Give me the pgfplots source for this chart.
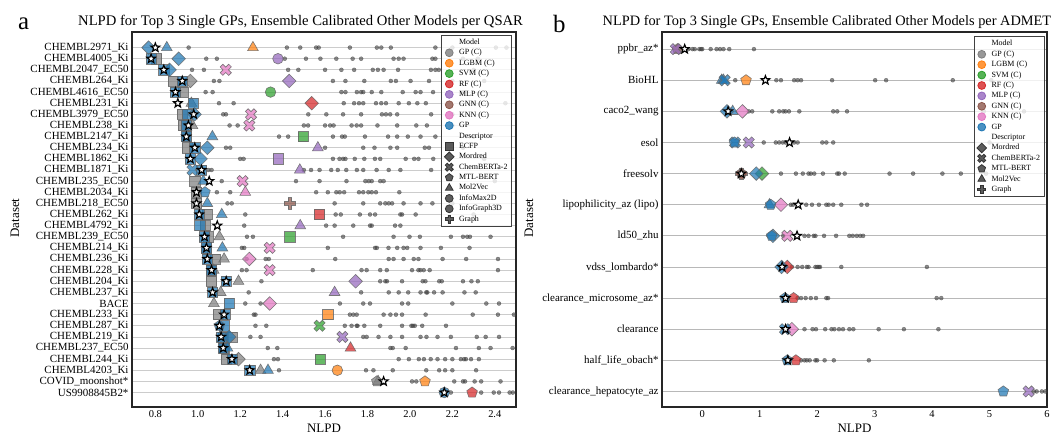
\documentclass[border=0pt]{standalone}
\usepackage{fontspec}
\setmainfont{Liberation Serif}
\usepackage{pgfplots}
\pgfplotsset{compat=1.18}
\usetikzlibrary{plotmarks}

\definecolor{cgray}{HTML}{7F7F7F}
\definecolor{corange}{HTML}{FF7F0E}
\definecolor{cgreen}{HTML}{2CA02C}
\definecolor{cred}{HTML}{D62728}
\definecolor{cpurple}{HTML}{9467BD}
\definecolor{cbrown}{HTML}{8C564B}
\definecolor{cpink}{HTML}{E377C2}
\definecolor{cblue}{HTML}{1F77B4}

\pgfdeclareplotmark{Df}{%
  \pgfpathmoveto{\pgfqpoint{0pt}{\pgfplotmarksize}}%
  \pgfpathlineto{\pgfqpoint{\pgfplotmarksize}{0pt}}%
  \pgfpathlineto{\pgfqpoint{0pt}{-\pgfplotmarksize}}%
  \pgfpathlineto{\pgfqpoint{-\pgfplotmarksize}{0pt}}%
  \pgfpathclose\pgfusepathqfillstroke}
\newcommand\crosspath{%
  \pgfpathmoveto{\pgfqpoint{0.32\pgfplotmarksize}{\pgfplotmarksize}}%
  \pgfpathlineto{\pgfqpoint{0.32\pgfplotmarksize}{0.32\pgfplotmarksize}}%
  \pgfpathlineto{\pgfqpoint{\pgfplotmarksize}{0.32\pgfplotmarksize}}%
  \pgfpathlineto{\pgfqpoint{\pgfplotmarksize}{-0.32\pgfplotmarksize}}%
  \pgfpathlineto{\pgfqpoint{0.32\pgfplotmarksize}{-0.32\pgfplotmarksize}}%
  \pgfpathlineto{\pgfqpoint{0.32\pgfplotmarksize}{-\pgfplotmarksize}}%
  \pgfpathlineto{\pgfqpoint{-0.32\pgfplotmarksize}{-\pgfplotmarksize}}%
  \pgfpathlineto{\pgfqpoint{-0.32\pgfplotmarksize}{-0.32\pgfplotmarksize}}%
  \pgfpathlineto{\pgfqpoint{-\pgfplotmarksize}{-0.32\pgfplotmarksize}}%
  \pgfpathlineto{\pgfqpoint{-\pgfplotmarksize}{0.32\pgfplotmarksize}}%
  \pgfpathlineto{\pgfqpoint{-0.32\pgfplotmarksize}{0.32\pgfplotmarksize}}%
  \pgfpathlineto{\pgfqpoint{-0.32\pgfplotmarksize}{\pgfplotmarksize}}%
  \pgfpathclose\pgfusepathqfillstroke}
\pgfdeclareplotmark{Pf}{\crosspath}
\pgfdeclareplotmark{Xf}{\pgftransformrotate{45}\crosspath}
\pgfdeclareplotmark{starf}{%
  \pgfpathmoveto{\pgfqpoint{0pt}{\pgfplotmarksize}}%
  \pgfpathlineto{\pgfqpoint{-0.247\pgfplotmarksize}{0.340\pgfplotmarksize}}%
  \pgfpathlineto{\pgfqpoint{-0.951\pgfplotmarksize}{0.309\pgfplotmarksize}}%
  \pgfpathlineto{\pgfqpoint{-0.399\pgfplotmarksize}{-0.130\pgfplotmarksize}}%
  \pgfpathlineto{\pgfqpoint{-0.588\pgfplotmarksize}{-0.809\pgfplotmarksize}}%
  \pgfpathlineto{\pgfqpoint{0pt}{-0.42\pgfplotmarksize}}%
  \pgfpathlineto{\pgfqpoint{0.588\pgfplotmarksize}{-0.809\pgfplotmarksize}}%
  \pgfpathlineto{\pgfqpoint{0.399\pgfplotmarksize}{-0.130\pgfplotmarksize}}%
  \pgfpathlineto{\pgfqpoint{0.951\pgfplotmarksize}{0.309\pgfplotmarksize}}%
  \pgfpathlineto{\pgfqpoint{0.247\pgfplotmarksize}{0.340\pgfplotmarksize}}%
  \pgfpathclose\pgfusepathqfillstroke}

\pgfplotsset{
  bm/.style={only marks, forget plot, color=#1, mark options={fill=#1, fill opacity=0.72, draw=black!60, draw opacity=0.85, line width=0.6pt}},
  sq/.style={mark=square*, mark size=5.1bp},
  di/.style={mark=Df, mark size=6.8bp},
  tr/.style={mark=triangle*, mark size=6.2bp},
  pe/.style={mark=pentagon*, mark size=5.6bp},
  ci/.style={mark=*, mark size=5.3bp},
  xx/.style={mark=Xf, mark size=6bp},
  pl/.style={mark=Pf, mark size=5.6bp},
  dots/.style={only marks, forget plot, mark=*, mark size=2bp, color=black!75, mark options={opacity=0.6, draw=none}},
  stars/.style={only marks, forget plot, mark=starf, mark size=4.6bp, mark options={fill=white, draw=black, line width=1.15pt}},
  lg/.style={only marks, color=#1, mark options={fill=#1, draw=#1}},
  myaxis/.style={
    scale only axis, y dir=reverse, height=375bp,
    ymajorgrids, grid style={draw=black!20, line width=0.8pt},
    major tick length=0pt,
    axis line style={line width=1.1pt, black!85},
    yticklabel style={font=\fontsize{11}{13}\selectfont},
    xticklabel style={font=\fontsize{10.5}{12}\selectfont},
    label style={font=\fontsize{13}{15}\selectfont},
    xlabel={NLPD},
    /pgf/number format/assume math mode=true,
    legend cell align=left,
    legend image code/.code={\draw[##1] plot coordinates {(0bp,0bp)};},
    legend style={font=\fontsize{8}{9.5}\selectfont, draw=black!75, line width=0.8pt,
      fill=white, fill opacity=0.8, draw opacity=1, text opacity=1, anchor=north east,
      inner xsep=3bp, inner ysep=2bp, row sep=0.4bp,
      nodes={inner sep=1bp, text height=6bp, text depth=2bp},
      /tikz/every odd column/.style={column sep=4bp}},
  },
}

\begin{document}
\begin{tikzpicture}
\useasboundingbox (0,0) rectangle (1058bp,436bp);
\node[rotate=90, anchor=center, inner sep=0, font=\fontsize{13}{15}\selectfont, text=black, opacity=1, text opacity=1] at (529bp,218bp) {Dataset};
\node[rotate=90, anchor=center, inner sep=0, font=\fontsize{13}{15}\selectfont, text=black, opacity=1, text opacity=1] at (15bp,218bp) {Dataset};

% ---------------- Panel a ----------------
\begin{axis}[myaxis, at={(132bp,29bp)}, anchor=south west, width=384bp,
  xmin=0.69, xmax=2.5, ymin=-1.4, ymax=32.3,
  xtick={0.8,1.0,1.2,1.4,1.6,1.8,2.0,2.2,2.4},
  /pgf/number format/.cd, fixed, fixed zerofill, precision=1, /pgfplots/.cd,
  ytick={0,...,31},
  yticklabels={CHEMBL2971\_Ki, CHEMBL4005\_Ki, CHEMBL2047\_EC50, CHEMBL264\_Ki, CHEMBL4616\_EC50, CHEMBL231\_Ki, CHEMBL3979\_EC50, CHEMBL238\_Ki, CHEMBL2147\_Ki, CHEMBL234\_Ki, CHEMBL1862\_Ki, CHEMBL1871\_Ki, CHEMBL235\_EC50, CHEMBL2034\_Ki, CHEMBL218\_EC50, CHEMBL262\_Ki, CHEMBL4792\_Ki, CHEMBL239\_EC50, CHEMBL214\_Ki, CHEMBL236\_Ki, CHEMBL228\_Ki, CHEMBL204\_Ki, CHEMBL237\_Ki, BACE, CHEMBL233\_Ki, CHEMBL287\_Ki, CHEMBL219\_Ki, CHEMBL237\_EC50, CHEMBL244\_Ki, CHEMBL4203\_Ki, COVID\_moonshot*, US9908845B2*},
  legend style={at={(0.9896,0.992)}},
]
\addplot[dots] coordinates {
(0.957,0)(1.42,0)(1.483,0)(1.558,0)(1.57,0)(1.717,0)(1.844,0)(1.865,0)(1.91,0)(2.12,0)(2.2,0)(2.405,0)(2.455,0)
(1.04,1)(1.09,1)(1.41,1)(1.51,1)(1.578,1)(1.653,1)(1.73,1)(1.77,1)(1.923,1)(1.947,1)(1.97,1)(2.106,1)(2.12,1)(2.25,1)(2.32,1)
(0.973,2)(1.029,2)(1.426,2)(1.474,2)(1.6,2)(1.677,2)(1.737,2)(1.825,2)(1.849,2)(1.876,2)(1.944,2)(2.099,2)(2.12,2)(2.136,2)(2.3,2)
(1.076,3)(1.102,3)(1.637,3)(1.696,3)(1.785,3)(1.91,3)(1.934,3)(2.003,3)(2.09,3)(2.2,3)(2.35,3)
(1.037,4)(1.07,4)(1.677,4)(1.696,4)(1.75,4)(1.77,4)(1.78,4)(1.82,4)(1.865,4)(1.966,4)(2.027,4)(2.05,4)(2.109,4)(2.25,4)
(1.1,5)(1.169,5)(1.688,5)(1.737,5)(1.76,5)(1.78,5)(1.84,5)(1.865,5)(1.887,5)(1.947,5)(1.995,5)(2.035,5)(2.075,5)(2.3,5)(2.45,5)
(1.12,6)(1.133,6)(1.521,6)(1.606,6)(1.685,6)(1.77,6)(1.868,6)(1.887,6)(1.907,6)(1.94,6)(2.1,6)(2.2,6)
(1.15,7)(1.188,7)(1.5,7)(1.52,7)(1.6,7)(1.624,7)(1.64,7)(1.725,7)(1.749,7)(1.77,7)(1.847,7)(1.94,7)(2.03,7)(2.08,7)(2.2,7)
(1.383,8)(1.426,8)(1.637,8)(1.68,8)(1.693,8)(1.788,8)(1.897,8)(1.94,8)(1.99,8)(2.05,8)(2.12,8)(2.3,8)
(1.133,9)(1.153,9)(1.6,9)(1.78,9)(1.833,9)(1.908,9)(1.94,9)(2.07,9)(2.09,9)(2.25,9)
(1.2,10)(1.216,10)(1.637,10)(1.668,10)(1.685,10)(1.696,10)(1.74,10)(1.785,10)(1.835,10)(1.86,10)(1.98,10)(2.02,10)(2.04,10)(2.11,10)(2.35,10)
(1.05,11)(1.065,11)(1.5,11)(1.534,11)(1.574,11)(1.629,11)(1.66,11)(1.7,11)(1.75,11)(1.78,11)(1.843,11)(1.9,11)(1.955,11)(2.1,11)
(1.113,12)(1.463,12)(1.574,12)(1.701,12)(1.79,12)(1.806,12)(1.82,12)(1.86,12)(1.876,12)(2.4,12)
(1.09,13)(1.153,13)(1.558,13)(1.613,13)(1.653,13)(1.669,13)(1.69,13)(1.76,13)(1.78,13)(1.804,13)(1.82,13)(1.84,13)(1.95,13)
(1.14,14)(1.16,14)(1.645,14)(1.78,14)(1.86,14)(1.884,14)(1.9,14)(1.916,14)(1.97,14)(2.05,14)(2.106,14)(2.2,14)
(1.224,15)(1.65,15)(1.674,15)(1.764,15)(1.812,15)(1.836,15)(1.955,15)(1.963,15)(2.027,15)(2.3,15)
(1.219,16)(1.605,16)(1.645,16)(1.733,16)(1.812,16)(1.82,16)(1.93,16)(1.955,16)
(1.232,17)(1.26,17)(1.685,17)(1.923,17)(1.998,17)(2.047,17)(2.193,17)(2.25,17)(2.27,17)(2.283,17)(2.38,17)
(1.208,18)(1.219,18)(1.613,18)(1.836,18)(1.844,18)(1.899,18)(1.94,18)(1.97,18)(1.987,18)(2.05,18)(2.146,18)(2.281,18)
(1.23,19)(1.32,19)(1.335,19)(1.648,19)(1.9,19)(1.923,19)(1.97,19)(2.018,19)(2.04,19)(2.154,19)(2.265,19)(2.415,19)
(1.208,20)(1.23,20)(1.542,20)(1.772,20)(1.796,20)(1.86,20)(1.891,20)(2.01,20)(2.04,20)(2.05,20)(2.065,20)(2.093,20)(2.415,20)
(1.3,21)(1.86,21)(1.884,21)(1.892,21)(1.963,21)(2.06,21)(2.073,21)(2.138,21)(2.15,21)(2.25,21)(2.29,21)(2.32,21)
(1.24,22)(1.77,22)(1.9,22)(1.947,22)(1.992,22)(2.05,22)(2.077,22)(2.082,22)(2.114,22)(2.154,22)(2.257,22)(2.31,22)
(1.224,23)(1.296,23)(1.67,23)(1.78,23)(1.812,23)(1.963,23)(1.992,23)(2.2,23)(2.36,23)(2.42,23)
(1.264,24)(1.272,24)(1.717,24)(1.733,24)(1.749,24)(1.876,24)(1.908,24)(1.934,24)(1.963,24)(2.074,24)(2.296,24)(2.415,24)(2.49,24)
(1.272,25)(1.323,25)(1.693,25)(1.725,25)(1.749,25)(1.753,25)(1.785,25)(1.86,25)(1.963,25)(2.007,25)(2.014,25)(2.023,25)(2.058,25)(2.17,25)
(1.248,26)(1.296,26)(1.78,26)(1.796,26)(1.852,26)(1.908,26)(1.963,26)(2.05,26)(2.078,26)(2.13,26)(2.193,26)(2.315,26)(2.357,26)(2.42,26)
(1.33,27)(1.375,27)(1.908,27)(1.919,27)(1.98,27)(2.217,27)(2.325,27)(2.38,27)(2.484,27)
(1.359,28)(1.378,28)(1.947,28)(1.995,28)(2.042,28)(2.066,28)(2.098,28)(2.13,28)(2.166,28)(2.2,28)(2.24,28)(2.255,28)(2.264,28)(2.288,28)(2.325,28)
(1.383,29)(1.793,29)(1.828,29)(1.919,29)(2.077,29)(2.138,29)(2.166,29)(2.2,29)(2.312,29)
(2.01,30)(2.03,30)(2.209,30)(2.25,30)(2.26,30)(2.305,30)(2.336,30)(2.427,30)
(2.193,31)(2.336,31)(2.395,31)(2.42,31)(2.47,31)(2.485,31)
};
% GP (C) gray
\addplot[bm=cgray, sq] coordinates {(0.806,1)(0.883,3)(0.93,4)(0.927,6)(0.93,7)(0.946,8)(0.951,9)(0.986,12)(0.994,13)(0.994,14)(1.045,15)(1.034,16)(1.05,17)(1.041,18)(1.081,19)(1.065,20)(1.065,21)(1.097,24)(1.12,26)(1.163,26)(1.125,27)(1.134,28)};
\addplot[bm=cgray, di] coordinates {(0.965,3)(1.192,28)};
\addplot[bm=cgray, tr] coordinates {(0.97,5)(0.975,7)(1.102,17)(1.124,19)(1.075,20)(1.192,21)(1.108,22)(1.076,23)(1.296,29)(1.85,30)};
\addplot[bm=cgray, pe] coordinates {(1.844,30)};
% other calibrated models
\addplot[bm=corange, tr] coordinates {(1.26,0)};
\addplot[bm=corange, sq] coordinates {(1.613,24)};
\addplot[bm=corange, ci] coordinates {(1.658,29)};
\addplot[bm=corange, pe] coordinates {(2.071,30)};
\addplot[bm=cpurple, ci] coordinates {(1.378,1)};
\addplot[bm=cpurple, di] coordinates {(1.431,3)(1.744,21)};
\addplot[bm=cpurple, tr] coordinates {(1.566,9)(1.481,11)(1.483,16)(1.645,22)};
\addplot[bm=cpurple, sq] coordinates {(1.38,10)};
\addplot[bm=cpurple, xx] coordinates {(1.682,26)};
\addplot[bm=cpink, xx] coordinates {(1.132,2)(1.251,6)(1.243,7)(1.211,12)(1.339,18)(1.339,20)};
\addplot[bm=cpink, tr] coordinates {(1.224,13)};
\addplot[bm=cpink, di] coordinates {(1.243,19)(1.339,23)};
\addplot[bm=cgreen, ci] coordinates {(1.343,4)};
\addplot[bm=cgreen, sq] coordinates {(1.497,8)(1.434,17)(1.577,28)};
\addplot[bm=cgreen, xx] coordinates {(1.574,25)};
\addplot[bm=cred, di] coordinates {(1.537,5)};
\addplot[bm=cred, sq] coordinates {(1.574,15)};
\addplot[bm=cred, tr] coordinates {(1.72,27)};
\addplot[bm=cred, pe] coordinates {(2.293,31)};
\addplot[bm=cbrown, pl] coordinates {(1.434,14)};
% GP blue
\addplot[bm=cblue, sq] coordinates {(0.78,1)(0.84,2)(0.927,3)(0.895,4)(0.978,5)(0.951,6)(0.945,7)(0.946,8)(0.986,9)(0.965,10)(1.018,11)(1.007,15)(1.01,16)(1.032,17)(1.041,18)(1.045,19)(1.065,20)(1.134,21)(1.07,22)(1.148,23)(1.13,24)(1.125,25)(1.11,26)(1.12,27)(1.161,28)(1.245,29)};
\addplot[bm=cblue, di] coordinates {(0.768,0)(0.91,1)(0.867,2)(0.985,6)(1.045,9)(1.013,10)(1.148,26)};
\addplot[bm=cblue, tr] coordinates {(0.854,0)(1.069,8)(1.026,12)(1.045,14)(1.113,15)(1.116,18)(1.14,27)(1.331,29)};
\addplot[bm=cblue, xx] coordinates {(0.975,11)};
\addplot[bm=cblue, pe] coordinates {(1.034,13)(1.102,25)};
\addplot[bm=cblue, ci] coordinates {(2.162,31)};
% best
\addplot[stars] coordinates {(0.8,0)(0.78,1)(0.84,2)(0.927,3)(0.895,4)(0.906,5)(0.981,6)(0.956,7)(0.946,8)(0.986,9)(0.965,10)(1.018,11)(1.054,12)(0.994,13)(0.994,14)(1.007,15)(1.092,16)(1.032,17)(1.041,18)(1.045,19)(1.065,20)(1.134,21)(1.07,22)(1.124,24)(1.102,25)(1.11,26)(1.12,27)(1.161,28)(1.245,29)(1.876,30)(2.162,31)};
% legend
\addlegendimage{empty legend}\addlegendentry{Model}
\addlegendimage{lg=cgray, mark=*, mark size=3.9bp}\addlegendentry{GP (C)}
\addlegendimage{lg=corange, mark=*, mark size=3.9bp}\addlegendentry{LGBM (C)}
\addlegendimage{lg=cgreen, mark=*, mark size=3.9bp}\addlegendentry{SVM (C)}
\addlegendimage{lg=cred, mark=*, mark size=3.9bp}\addlegendentry{RF (C)}
\addlegendimage{lg=cpurple, mark=*, mark size=3.9bp}\addlegendentry{MLP (C)}
\addlegendimage{lg=cbrown, mark=*, mark size=3.9bp}\addlegendentry{GNN (C)}
\addlegendimage{lg=cpink, mark=*, mark size=3.9bp}\addlegendentry{KNN (C)}
\addlegendimage{lg=cblue, mark=*, mark size=3.9bp}\addlegendentry{GP}
\addlegendimage{empty legend}\addlegendentry{Descriptor}
\addlegendimage{lg=black!80, mark=square*, mark size=3.7bp}\addlegendentry{ECFP}
\addlegendimage{lg=black!80, mark=Df, mark size=4.8bp}\addlegendentry{Mordred}
\addlegendimage{lg=black!80, mark=Xf, mark size=4.3bp}\addlegendentry{ChemBERTa-2}
\addlegendimage{lg=black!80, mark=pentagon*, mark size=4bp}\addlegendentry{MTL-BERT}
\addlegendimage{lg=black!80, mark=triangle*, mark size=4.4bp}\addlegendentry{Mol2Vec}
\addlegendimage{lg=black!80, mark=*, mark size=3.9bp}\addlegendentry{InfoMax2D}
\addlegendimage{lg=black!80, mark=*, mark size=3.9bp}\addlegendentry{InfoGraph3D}
\addlegendimage{lg=black!80, mark=Pf, mark size=4.1bp}\addlegendentry{Graph}
\end{axis}

% ---------------- Panel b ----------------
\begin{axis}[myaxis, at={(662bp,29bp)}, anchor=south west, width=385bp,
  xmin=-0.7, xmax=6, ymin=-0.55, ymax=11.5,
  xtick={0,1,2,3,4,5,6},
  ytick={0,...,11},
  yticklabels={ppbr\_az*, BioHL, caco2\_wang, esol, freesolv, lipophilicity\_az (lipo), ld50\_zhu, vdss\_lombardo*, clearance\_microsome\_az*, clearance, half\_life\_obach*, clearance\_hepatocyte\_az},
  grid style={draw=black!28, line width=0.8pt},
  legend style={at={(0.9935,0.988)}},
]
\addplot[dots] coordinates {
(-0.24,0)(-0.17,0)(-0.13,0)(-0.05,0)(-0.02,0)(0.0,0)(0.147,0)(0.25,0)(0.31,0)(0.37,0)(0.47,0)(0.9,0)
(0.575,1)(1.29,1)(1.37,1)(1.6,1)(1.66,1)(1.72,1)(2.26,1)(3.01,1)(3.2,1)(4.36,1)(5.03,1)
(0.81,2)(0.87,2)(1.22,2)(1.34,2)(1.41,2)(1.45,2)(1.51,2)(1.69,2)(2.28,2)(2.35,2)(2.52,2)(4.9,2)(5.6,2)
(1.07,3)(1.28,3)(1.34,3)(1.4,3)(1.45,3)(1.6,3)(1.66,3)(2.09,3)(2.16,3)(2.28,3)(5.0,3)
(1.37,4)(1.63,4)(1.75,4)(1.85,4)(1.89,4)(1.95,4)(2.1,4)(2.35,4)(2.38,4)(2.48,4)(3.26,4)(3.67,4)(4.18,4)(4.5,4)(4.94,4)
(1.54,5)(1.58,5)(1.81,5)(1.91,5)(2.03,5)(2.16,5)(2.2,5)(2.28,5)(2.42,5)(2.77,5)(2.87,5)
(1.41,6)(1.78,6)(1.85,6)(1.94,6)(1.97,6)(2.12,6)(2.33,6)(2.56,6)(2.62,6)(2.69,6)(2.75,6)(2.8,6)
(1.56,7)(1.66,7)(1.74,7)(1.82,7)(1.85,7)(1.97,7)(2.0,7)(2.03,7)(2.05,7)(2.42,7)(3.91,7)
(1.66,8)(1.72,8)(1.8,8)(1.89,8)(1.98,8)(2.16,8)(2.19,8)(4.08,8)(4.16,8)
(1.78,9)(1.92,9)(1.98,9)(2.14,9)(2.25,9)(2.3,9)(2.38,9)(2.45,9)(2.56,9)(2.63,9)(3.07,9)(3.51,9)(4.11,9)
(1.72,10)(1.78,10)(1.82,10)(1.87,10)(1.97,10)(2.0,10)(2.13,10)(2.29,10)(2.9,10)
(5.77,11)(5.82,11)(5.91,11)(5.97,11)
};
\addplot[bm=cbrown, pe] coordinates {(-0.43,0)(0.68,4)};
\addplot[bm=cbrown, pl] coordinates {(0.68,4)};
\addplot[bm=cpurple, xx] coordinates {(-0.46,0)(0.81,3)(5.68,11)};
\addplot[bm=corange, pe] coordinates {(0.762,1)};
\addplot[bm=cpink, di] coordinates {(0.70,2)(1.37,5)(1.56,9)};
\addplot[bm=cgreen, di] coordinates {(1.04,4)};
\addplot[bm=cpink, xx] coordinates {(1.48,6)};
\addplot[bm=cred, di] coordinates {(1.48,7)};
\addplot[bm=cred, pe] coordinates {(1.59,8)(1.63,10)};
\addplot[bm=cblue, tr] coordinates {(0.34,1)(0.37,1)(0.53,2)(1.17,5)};
\addplot[bm=cblue, xx] coordinates {(0.39,1)(0.57,3)(1.44,9)};
\addplot[bm=cblue, di] coordinates {(0.43,2)(0.94,4)(1.23,6)(1.38,7)};
\addplot[bm=cblue, pe] coordinates {(0.56,3)(1.19,5)(1.21,6)(1.44,8)(1.48,10)(5.24,11)};
\addplot[stars] coordinates {(-0.305,0)(1.1,1)(0.45,2)(1.52,3)(0.68,4)(1.67,5)(1.65,6)(1.39,7)(1.45,8)(1.45,9)(1.49,10)};
\addlegendimage{empty legend}\addlegendentry{Model}
\addlegendimage{lg=cgray, mark=*, mark size=3.9bp}\addlegendentry{GP (C)}
\addlegendimage{lg=corange, mark=*, mark size=3.9bp}\addlegendentry{LGBM (C)}
\addlegendimage{lg=cgreen, mark=*, mark size=3.9bp}\addlegendentry{SVM (C)}
\addlegendimage{lg=cred, mark=*, mark size=3.9bp}\addlegendentry{RF (C)}
\addlegendimage{lg=cpurple, mark=*, mark size=3.9bp}\addlegendentry{MLP (C)}
\addlegendimage{lg=cbrown, mark=*, mark size=3.9bp}\addlegendentry{GNN (C)}
\addlegendimage{lg=cpink, mark=*, mark size=3.9bp}\addlegendentry{KNN (C)}
\addlegendimage{lg=cblue, mark=*, mark size=3.9bp}\addlegendentry{GP}
\addlegendimage{empty legend}\addlegendentry{Descriptor}
\addlegendimage{lg=black!80, mark=Df, mark size=4.8bp}\addlegendentry{Mordred}
\addlegendimage{lg=black!80, mark=Xf, mark size=4.3bp}\addlegendentry{ChemBERTa-2}
\addlegendimage{lg=black!80, mark=pentagon*, mark size=4bp}\addlegendentry{MTL-BERT}
\addlegendimage{lg=black!80, mark=triangle*, mark size=4.4bp}\addlegendentry{Mol2Vec}
\addlegendimage{lg=black!80, mark=Pf, mark size=4.1bp}\addlegendentry{Graph}
\end{axis}

\node[anchor=base west, inner sep=0, font=\fontsize{14.7}{17}\selectfont] at (78bp,410bp) {NLPD for Top 3 Single GPs, Ensemble Calibrated Other Models per QSAR};
\node[anchor=base west, inner sep=0, font=\fontsize{14.4}{17}\selectfont] at (602.5bp,410bp) {NLPD for Top 3 Single GPs, Ensemble Calibrated Other Models per ADMET};
\node[anchor=base west, inner sep=0, font=\fontsize{25}{30}\selectfont] at (18bp,406bp) {a};
\node[anchor=base west, inner sep=0, font=\fontsize{25}{30}\selectfont] at (553bp,403bp) {b};
\end{tikzpicture}
\end{document}
